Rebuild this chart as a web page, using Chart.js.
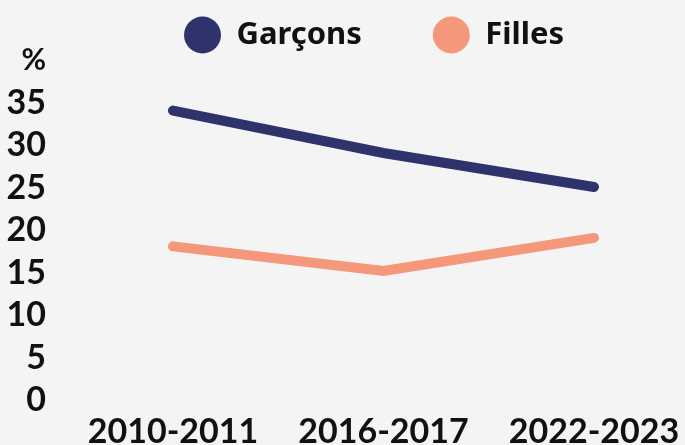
<!DOCTYPE html>
<html lang="fr">
<head>
<meta charset="UTF-8">
<title>Garçons / Filles</title>
<script src="https://cdn.jsdelivr.net/npm/chart.js@4.4.0/dist/chart.umd.min.js"></script>
<style>
  html, body { margin:0; padding:0; background:#f4f4f4; }
  #wrap { width:685px; height:445px; }
</style>
</head>
<body>
<div id="wrap"><canvas id="myChart" width="685" height="445"></canvas></div>
<script>
// données
const years = ['2010-2011', '2016-2017', '2022-2023']
const garcons = [34.1, 29.1, 25.1]
const filles = [18.1, 15.2, 19.1]
const yTicks = [0, 5, 10, 15, 20, 25, 30, 35]
const unitLabel = '%'

const navy = '#2f336b'
const salmon = '#f4977a'
const tickFont = 'Lato, "Open Sans", sans-serif'
const legendFont = '"Noto Sans", "Open Sans", sans-serif'
const legendGap = 71
const legendSize = 31

// décale la légende vers la droite (départ du 1er rond à x=184)
const legendShift = {
  id: 'legendShift',
  afterLayout(chart) {
    const lg = chart.legend
    if (lg) { lg.left = 184 - legendGap }
  }
}

const ctx = document.getElementById('myChart').getContext('2d')
const myChart = new Chart(ctx, {
  type: 'line',
  data: {
    labels: years,
    datasets: [
      { label: 'Garçons', data: garcons, borderColor: navy, backgroundColor: navy },
      { label: 'Filles', data: filles, borderColor: salmon, backgroundColor: salmon }
    ]
  },
  plugins: [legendShift],
  options: {
    responsive: false,
    animation: false,
    layout: { padding: { left: 0, right: 0, top: 35 - legendSize / 2 - legendGap, bottom: 0 } },
    elements: {
      line: { borderWidth: 10, borderCapStyle: 'round', tension: 0 },
      point: { radius: 0, hoverRadius: 0 }
    },
    plugins: {
      tooltip: { enabled: false },
      legend: {
        align: 'start',
        labels: {
          usePointStyle: true,
          pointStyle: 'circle',
          pointStyleWidth: 37,
          boxHeight: 26,
          padding: legendGap,
          color: '#111',
          font: { family: legendFont, size: legendSize, weight: 'bold' },
          generateLabels: function(chart) {
            const items = Chart.defaults.plugins.legend.labels.generateLabels(chart)
            items.forEach(it => { it.lineWidth = 0 })
            return items
          }
        }
      }
    },
    scales: {
      x: {
        offset: false,
        grid: { display: false, drawTicks: false },
        border: { display: false },
        ticks: {
          padding: 15,
          color: '#111',
          maxRotation: 0,
          autoSkip: false,
          font: { family: tickFont, size: 34, weight: 'bold', lineHeight: 1 }
        },
        afterFit: s => { s.height = 45; s.paddingLeft = 0; s.paddingRight = 0 }
      },
      y: {
        min: 0,
        max: 40,
        grid: { display: false, drawTicks: false },
        border: { display: false },
        afterBuildTicks: s => {
          s.ticks = yTicks.concat([40]).map(v => ({ value: v }))
        },
        ticks: {
          padding: 127,
          color: '#111',
          autoSkip: false,
          callback: v => v === 40 ? unitLabel : String(v),
          font: c => c.tick && c.tick.value === 40
            ? { family: tickFont, size: 30, weight: 'bold', lineHeight: 1 }
            : { family: tickFont, size: 34, weight: 'bold', lineHeight: 1 }
        },
        afterFit: s => { s.width = 173; s.paddingTop = 0; s.paddingBottom = 0 }
      },
      // axe vide à droite, sert seulement à réserver la marge
      yR: {
        position: 'right',
        grid: { display: false, drawTicks: false },
        border: { display: false },
        ticks: { display: false },
        afterFit: s => { s.width = 91; s.paddingTop = 0; s.paddingBottom = 0 }
      }
    }
  }
})
</script>
</body>
</html>
